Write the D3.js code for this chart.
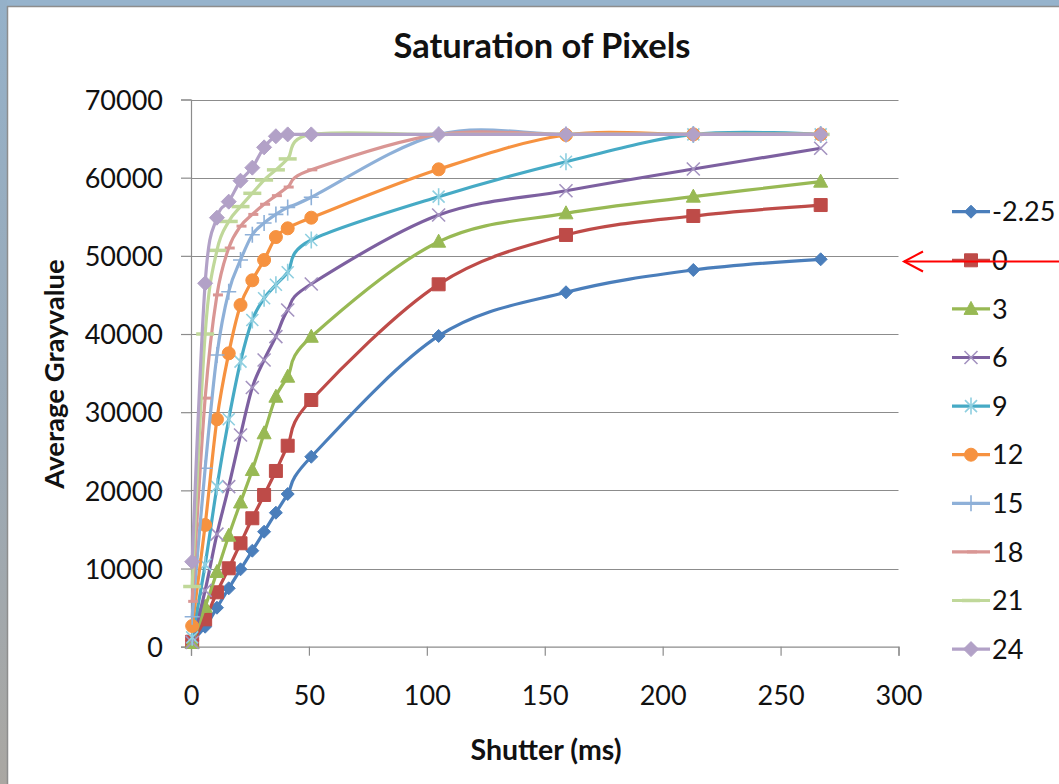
<!DOCTYPE html>
<html>
<head>
<meta charset="utf-8">
<script src="https://cdn.jsdelivr.net/npm/d3@7"></script>
<style>
  html, body { margin: 0; padding: 0; background: #fff; }
  svg { display: block; }
  text { font-family: Lato, "Open Sans", sans-serif; fill: #111; }
</style>
</head>
<body>
<svg id="chart" width="1059" height="784"></svg>
<script>
// Shutter times (ms) shared by every gain series
const shutter = [0.5, 6, 11, 16, 21, 26, 31, 36, 41, 51, 105, 159, 213, 267];

// Average gray value per gain setting
const gainM225 = [800, 2560, 4990, 7470, 9900, 12280, 14710, 17140, 19530, 24300, 39750, 45340, 48190, 49560];
const gain0    = [640, 3500, 6960, 10030, 13230, 16430, 19410, 22480, 25710, 31560, 46360, 52670, 55100, 56500];
const gain3    = [470, 5100, 9560, 14200, 18450, 22600, 27300, 31980, 34540, 39650, 51810, 55440, 57570, 59490];
const gain6    = [550, 7200, 14400, 20470, 27080, 33160, 36680, 39660, 43070, 46400, 55220, 58330, 61110, 63760];
const gain9    = [1200, 10500, 20470, 29090, 36460, 41790, 44570, 46300, 47900, 52030, 57570, 62040, 65535, 65535];
const gain12   = [2650, 15570, 29090, 37530, 43710, 46870, 49470, 52400, 53520, 54880, 61070, 65460, 65535, 65535];
const gain15   = [3840, 22820, 37320, 45410, 49470, 52700, 54200, 55300, 56200, 57500, 65535, 65535, 65535, 65535];
const gain18   = [5800, 31800, 45000, 51000, 53800, 55300, 56600, 57700, 58800, 61000, 65535, 65535, 65535, 65535];
const gain21   = [7700, 40000, 50700, 54400, 56300, 58000, 59700, 61000, 62400, 65535, 65535, 65535, 65535, 65535];
const gain24   = [10870, 46490, 54880, 56930, 59610, 61280, 63880, 65300, 65535, 65535, 65535, 65535, 65535, 65535];

const seriesNames = ["-2.25", "0", "3", "6", "9", "12", "15", "18", "21", "24"];
const seriesValues = [gainM225, gain0, gain3, gain6, gain9, gain12, gain15, gain18, gain21, gain24];

const yTicks = [0, 10000, 20000, 30000, 40000, 50000, 60000, 70000];
const xTicks = [0, 50, 100, 150, 200, 250, 300];

// Line colour, marker shape and marker paint for each series
const lineColors = ["#4a7ebb", "#be4b48", "#98b954", "#7d60a0", "#46aac5", "#f69240", "#8eb0d8", "#d99694", "#c0d89a", "#b2a1c7"];
const markerKinds = ["diamond", "square", "triangle", "x", "star", "circle", "plus", "dash", "longdash", "bigdiamond"];
const markerColors = ["#4a7ebb", "#be4b48", "#98b954", "#a493c0", "#8fcfe0", "#f69240", "#8eb0d8", "#d99694", "#c0d89a", "#b2a1c7"];

const markerPaths = {
  diamond: "M0,-6.5L6.5,0L0,6.5L-6.5,0Z",
  square: "M-6.5,-6.5H6.5V6.5H-6.5Z",
  triangle: "M0,-7.5L7,5.5H-7Z",
  x: "M-6.5,-6.5L6.5,6.5M-6.5,6.5L6.5,-6.5",
  star: "M-6,-6L6,6M-6,6L6,-6M0,-8.5V8.5",
  circle: "M6.5,0A6.5,6.5 0 1,1 -6.5,0A6.5,6.5 0 1,1 6.5,0Z",
  plus: "M-7.5,0H7.5M0,-8V8",
  dash: "M-4,0H6",
  longdash: "M-9,0H9",
  bigdiamond: "M0,-7.5L7.5,0L0,7.5L-7.5,0Z"
};
const filledKinds = new Set(["diamond", "square", "triangle", "circle", "bigdiamond"]);
const markerWidth = kind => filledKinds.has(kind) ? 1 : (kind === "longdash" ? 3.5 : (kind === "dash" ? 3 : 1.6));

const svg = d3.select("#chart");
const W = 1059, H = 784;
const plot = { left: 191, right: 898.5, top: 99.5, bottom: 646.7 };

// Window frame strips
const grad = svg.append("defs").append("linearGradient")
  .attr("id", "leftStrip").attr("x1", 0).attr("y1", 0).attr("x2", 0).attr("y2", 1);
grad.append("stop").attr("offset", "0%").attr("stop-color", "#95b1c9");
grad.append("stop").attr("offset", "55%").attr("stop-color", "#9aa9b6");
grad.append("stop").attr("offset", "100%").attr("stop-color", "#aaa7a2");
svg.append("rect").attr("x", 0).attr("y", 0).attr("width", W).attr("height", 6).attr("fill", "#96b3cc");
svg.append("rect").attr("x", 0).attr("y", 0).attr("width", 7).attr("height", H).attr("fill", "url(#leftStrip)");
svg.append("line").attr("x1", 7).attr("x2", W).attr("y1", 6.5).attr("y2", 6.5).attr("stroke", "#8d8d8d").attr("stroke-width", 1.5);
svg.append("line").attr("x1", 7.5).attr("x2", 7.5).attr("y1", 6).attr("y2", H).attr("stroke", "#8d8d8d").attr("stroke-width", 1.5);

const x = d3.scaleLinear().domain([0, 300]).range([plot.left, plot.right]);
const y = d3.scaleLinear().domain([0, 70000]).range([plot.bottom, plot.top]);

// Horizontal gridlines
svg.append("g").selectAll("line").data(yTicks.filter(d => d > 0)).join("line")
  .attr("x1", plot.left).attr("x2", plot.right)
  .attr("y1", d => Math.round(y(d)) + 0.5).attr("y2", d => Math.round(y(d)) + 0.5)
  .attr("stroke", "#8c8c8c").attr("stroke-width", 1);

// Axes
const yAxis = svg.append("g").attr("transform", `translate(${plot.left},0)`)
  .call(d3.axisLeft(y).tickValues(yTicks).tickFormat(d3.format("d")).tickSize(10).tickPadding(18));
const xAxis = svg.append("g").attr("transform", `translate(0,${plot.bottom})`)
  .call(d3.axisBottom(x).tickValues(xTicks).tickFormat(d3.format("d")).tickSize(9).tickPadding(30));
[yAxis, xAxis].forEach(g => {
  g.select(".domain").attr("stroke", "#8c8c8c").attr("stroke-width", 1.2);
  g.selectAll(".tick line").attr("stroke", "#8c8c8c").attr("stroke-width", 1.2);
  g.selectAll(".tick text").attr("font-size", 27).attr("font-family", "Lato, sans-serif").attr("fill", "#111");
});
yAxis.selectAll(".tick text").attr("dy", "0.36em");

// Series lines (smoothed) and markers
const line = d3.line().x(d => x(d[0])).y(d => y(d[1])).curve(d3.curveCardinal.tension(0));
seriesValues.forEach((vals, i) => {
  const pts = shutter.map((s, j) => [s, vals[j]]);
  const g = svg.append("g");
  g.append("path").attr("d", line(pts)).attr("fill", "none")
    .attr("stroke", lineColors[i]).attr("stroke-width", 3.2).attr("stroke-linejoin", "round");
  const kind = markerKinds[i];
  g.selectAll("path.m").data(pts).join("path").attr("class", "m")
    .attr("transform", d => `translate(${x(d[0])},${y(d[1])})`)
    .attr("d", markerPaths[kind])
    .attr("fill", filledKinds.has(kind) ? markerColors[i] : "none")
    .attr("stroke", markerColors[i])
    .attr("stroke-width", markerWidth(kind));
});

// Legend
const legend = svg.append("g");
seriesNames.forEach((name, i) => {
  const cy = 211.7 + i * 48.6;
  const kind = markerKinds[i];
  legend.append("line").attr("x1", 952).attr("x2", 990).attr("y1", cy).attr("y2", cy)
    .attr("stroke", lineColors[i]).attr("stroke-width", 3.2);
  legend.append("path").attr("transform", `translate(971,${cy})`).attr("d", markerPaths[kind])
    .attr("fill", filledKinds.has(kind) ? markerColors[i] : "none")
    .attr("stroke", markerColors[i])
    .attr("stroke-width", markerWidth(kind));
  legend.append("text").attr("x", 992).attr("y", cy).attr("dy", "0.36em")
    .attr("font-size", 27).text(name);
});

// Titles
svg.append("text").attr("x", 542).attr("y", 58).attr("text-anchor", "middle")
  .attr("font-size", 34.5).attr("font-weight", "bold").text("Saturation of Pixels");
svg.append("text").attr("x", 546).attr("y", 760).attr("text-anchor", "middle")
  .attr("font-size", 28.5).attr("font-weight", "bold").text("Shutter (ms)");
svg.append("text").attr("transform", "translate(64,374) rotate(-90)").attr("text-anchor", "middle")
  .attr("font-size", 27.5).attr("font-weight", "bold").text("Average Grayvalue");

// Red pointer arrow next to the "0" legend entry
const arrow = svg.append("g").attr("stroke", "#ff0000").attr("stroke-width", 2).attr("fill", "none");
arrow.append("line").attr("x1", 904).attr("x2", W).attr("y1", 261.5).attr("y2", 261.5);
arrow.append("path").attr("d", "M923,251.5L904,261.5L923,271.5");
</script>
</body>
</html>
